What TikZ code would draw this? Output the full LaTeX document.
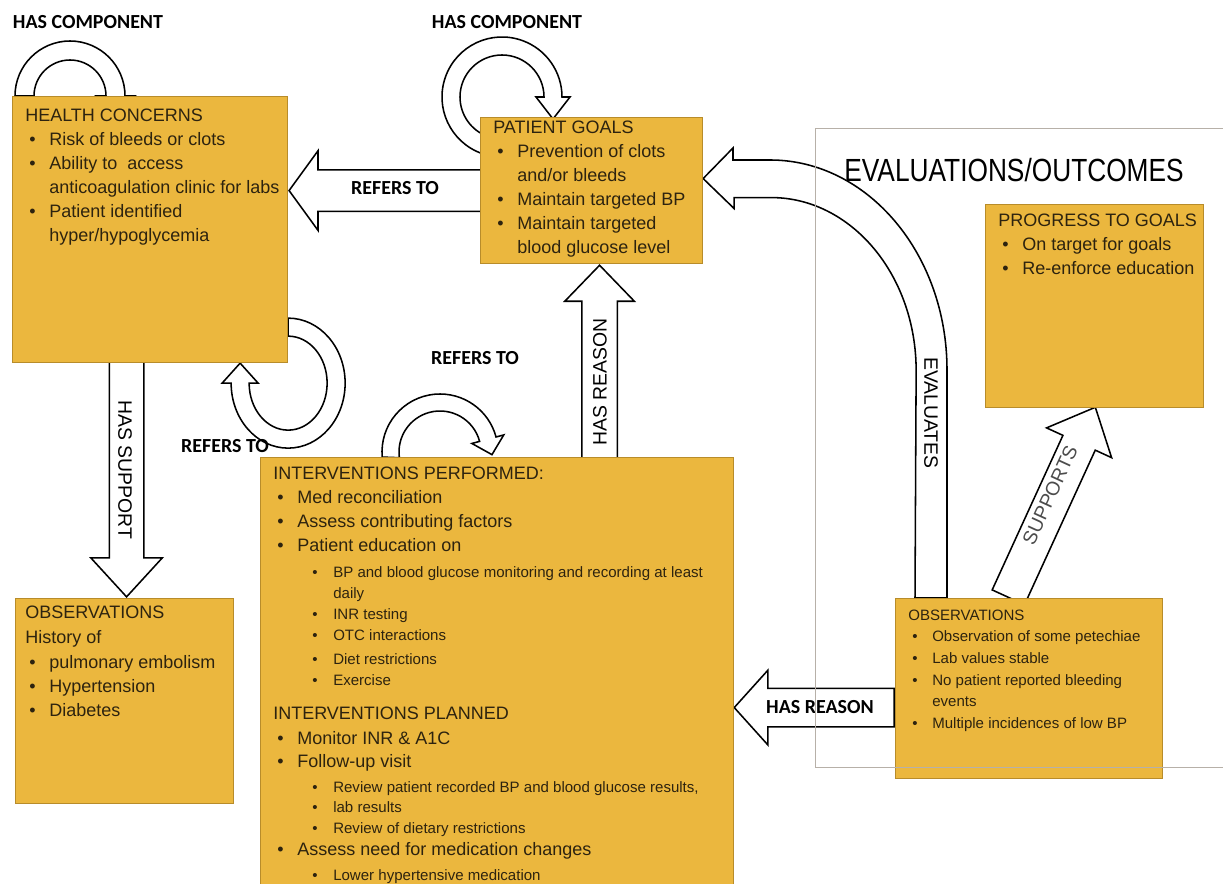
\documentclass[tikz,border=0pt]{standalone}
\usepackage{fontspec}
\setmainfont{Liberation Sans}
\newfontfamily\labfont{Carlito}
\newfontfamily\headfont[FakeStretch=0.82]{Liberation Sans}
\usetikzlibrary{arrows,shapes,positioning,calc}

\definecolor{boxfill}{RGB}{235,183,62}
\definecolor{boxline}{RGB}{184,140,42}
\definecolor{inkbrown}{RGB}{45,35,15}
\definecolor{framegray}{RGB}{183,176,168}

\pgfdeclarelayer{back}
\pgfsetlayers{back,main}

\newcommand{\sz}{\fontsize{10.7}{15}\selectfont}
\newcommand{\bul}[1]{\hspace*{1mm}\makebox[5mm][l]{\textbullet}#1}
\newcommand{\bcont}[1]{\hspace*{6mm}#1}
\newcommand{\sbul}[1]{\hspace*{9.75mm}{\sz\makebox[5.25mm][l]{\textbullet}#1}}
\newcommand{\scont}[1]{\hspace*{15mm}{\sz #1}}

\tikzset{
	box/.style={draw=boxline, fill=boxfill, line width=0.8pt, anchor=north west, inner sep=0pt},
	boxtext/.style={anchor=north west, align=left, inner sep=0pt, text=inkbrown, font=\fontsize{12.8}{17.07}\selectfont},
	smalltext/.style={boxtext, font=\fontsize{10.7}{15.36}\selectfont},
	blockarrow/.style={single arrow, draw=black, fill=white, line width=1.1pt, inner xsep=0pt},
	loopline/.style={draw=black, fill=white, line width=1.1pt},
	lab/.style={font=\labfont\bfseries\fontsize{14.2}{16}\selectfont},
	sidelab/.style={font=\fontsize{13.8}{16}\selectfont}
}

\begin{document}
\begin{tikzpicture}[x=0.25mm, y=-0.25mm]
	\useasboundingbox (0,0) rectangle (1223,884);
	% boxes
	\node[box, minimum width=68.75mm, minimum height=66.5mm] (health) at (12,96) {};
	\node[box, minimum width=55.5mm, minimum height=36.5mm] (goals) at (480,117) {};
	\node[box, minimum width=54.5mm, minimum height=50.75mm] (progress) at (985,204) {};
	\node[box, minimum width=54.5mm, minimum height=51.25mm] (obsleft) at (15,598) {};
	\node[box, minimum width=118.25mm, minimum height=110mm] (interv) at (260,457) {};
	\node[box, minimum width=66.75mm, minimum height=45mm] (obsright) at (895,598) {};
	% box texts
	\node[boxtext] (healthtxt) at ([xshift=3.25mm,yshift=-3.1mm]health.north west) {HEALTH CONCERNS\\
		\bul{Risk of bleeds or clots}\\
		\bul{Ability to\ \ access}\\
		\bcont{anticoagulation clinic for labs}\\
		\bul{Patient identified}\\
		\bcont{hyper/hypoglycemia}};
	\node[boxtext] (goalstxt) at ([xshift=3.25mm,yshift=-0.9mm]goals.north west) {PATIENT GOALS\\
		\bul{Prevention of clots}\\
		\bcont{and/or bleeds}\\
		\bul{Maintain targeted BP}\\
		\bul{Maintain targeted}\\
		\bcont{blood glucose level}};
	\node[boxtext] (progresstxt) at ([xshift=3.25mm,yshift=-2.4mm]progress.north west) {PROGRESS TO GOALS\\
		\bul{On target for goals}\\
		\bul{Re-enforce education}};
	\node[boxtext] (obslefttxt) at ([xshift=2.5mm,yshift=-1.9mm]obsleft.north west) {OBSERVATIONS\\[0.7pt]
		History of\\[0.7pt]
		\bul{pulmonary embolism}\\
		\bul{Hypertension}\\
		\bul{Diabetes}};
	\node[smalltext] (obsrighttxt) at ([xshift=3.25mm,yshift=-2.9mm]obsright.north west) {OBSERVATIONS\\
		\bul{Observation of some petechiae}\\
		\bul{Lab values stable}\\
		\bul{No patient reported bleeding}\\
		\bcont{events}\\
		\bul{Multiple incidences of low BP}};
	\node[boxtext] (intervtxt) at ([xshift=3.25mm,yshift=-2.4mm]interv.north west) {INTERVENTIONS PERFORMED:\\
		\bul{Med reconciliation}\\
		\bul{Assess contributing factors}\\
		\bul{Patient education on}\\[1.4pt]
		\sbul{BP and blood glucose monitoring and recording at least}\\[-2.1pt]
		\scont{daily}\\[-2.1pt]
		\sbul{INR testing}\\[-2.1pt]
		\sbul{OTC interactions}\\
		\sbul{Diet restrictions}\\[-2.1pt]
		\sbul{Exercise}\\[7.1pt]
		INTERVENTIONS PLANNED\\[0.7pt]
		\bul{Monitor INR \& A1C}\\[-0.7pt]
		\bul{Follow-up visit}\\[0.7pt]
		\sbul{Review patient recorded BP and blood glucose results,}\\[-2.8pt]
		\sbul{lab results}\\[-2.1pt]
		\sbul{Review of dietary restrictions}\\[-1.4pt]
		\bul{Assess need for medication changes}\\[0.7pt]
		\sbul{Lower hypertensive medication}};
	% connectors behind the boxes
	\begin{pgfonlayer}{back}
		\coordinate (hcA) at ([xshift=14.5mm]health.north west);
		\draw[loopline] ($(hcA)+(180:13.75mm)$) arc[start angle=180, end angle=0, radius=13.75mm]
			-- ($(hcA)+(0:16.25mm)$) -- ($(hcA)+(0:11.375mm)+(-90:6mm)$) -- ($(hcA)+(0:6.5mm)$)
			-- ($(hcA)+(0:9mm)$) arc[start angle=0, end angle=180, radius=9mm] -- cycle;
		\coordinate (pgC) at ([xshift=5.5mm,yshift=5mm]goals.north west);
		\draw[loopline] ($(pgC)+(250:15mm)$) arc[start angle=250, end angle=0, radius=15mm]
			-- ($(pgC)+(0:17mm)$) -- ($(pgC)+(0:12.75mm)+(-90:5.5mm)$) -- ($(pgC)+(0:8.5mm)$)
			-- ($(pgC)+(0:10.5mm)$) arc[start angle=0, end angle=250, radius=10.5mm] -- cycle;
		\coordinate (hcB) at ([yshift=-5mm]health.south east);
		\draw[loopline] ($(hcB)+(90:14.25mm and 16.25mm)$) arc[start angle=90, end angle=-180, x radius=14.25mm, y radius=16.25mm]
			-- ($(hcB)+(180:16.5mm)$) -- ($(hcB)+(180:12mm)+(90:5mm)$) -- ($(hcB)+(180:7.5mm)$)
			-- ($(hcB)+(180:9.75mm)$) arc[start angle=-180, end angle=90, x radius=9.75mm, y radius=11.75mm] -- cycle;
		\coordinate (ivC) at ([xshift=45mm,yshift=1.25mm]interv.north west);
		\draw[loopline] ($(ivC)+(185:14.5mm)$) arc[start angle=185, end angle=15, radius=14.5mm]
			-- ($(ivC)+(15:16.5mm)$) -- ($(ivC)+(15:12.375mm)+(-75:4mm)$) -- ($(ivC)+(15:8.25mm)$)
			-- ($(ivC)+(15:10.25mm)$) arc[start angle=15, end angle=188, radius=10.25mm] -- cycle;
		% evaluates
		\draw[loopline] ([xshift=13mm]obsright.north west) -- ++(0,57mm)
			arc[start angle=0, end angle=90, x radius=44.25mm, y radius=52.5mm]
			-- ++(-9.25mm,0) -- ++(0,3mm) -- ([yshift=3mm]goals.east) -- ++(7.75mm,-7.5mm)
			-- ++(0,2.75mm) -- ++(9.25mm,0)
			arc[start angle=90, end angle=0, x radius=36.25mm, y radius=43.25mm]
			-- ([xshift=5mm]obsright.north west) -- cycle;
		% straight block arrows
		\node[blockarrow, rotate=180, inner ysep=5mm, minimum height=48.25mm, minimum width=19.5mm, single arrow head extend=4.75mm, single arrow tip angle=108, anchor=tip] (hgarrow) at (health.east |- goals.west) {};
		\node[blockarrow, rotate=-90, inner ysep=4.125mm, minimum height=59mm, minimum width=17.5mm, single arrow head extend=4.625mm, single arrow tip angle=85, anchor=tip] (hsarrow) at ([xshift=0.5mm]obsleft.north) {};
		\node[blockarrow, rotate=90, inner ysep=4.25mm, minimum height=48.5mm, minimum width=17mm, single arrow head extend=4.25mm, single arrow tip angle=88, anchor=tip] (hrarrow) at ([xshift=2mm]goals.south) {};
		\node[blockarrow, rotate=180, inner ysep=4.625mm, minimum height=40mm, minimum width=18.25mm, single arrow head extend=4.5mm, single arrow tip angle=96, anchor=tail] (orarrow) at ([yshift=-4.75mm]obsright.west) {};
		\node[blockarrow, rotate=65.4, inner ysep=4.25mm, minimum height=52.25mm, minimum width=17.5mm, single arrow head extend=4.5mm, single arrow tip angle=85, anchor=tail] (sparrow) at ([xshift=28.25mm]obsright.north west) {};
	\end{pgfonlayer}
	% labels
	\node[lab] (hclab) at (88,22) {HAS COMPONENT};
	\node[lab] (pglab) at (507,22) {HAS COMPONENT};
	\node[lab] (hcref) at (225,446) {REFERS TO};
	\node[lab] (ivref) at (475,358) {REFERS TO};
	\node[lab] (hgref) at (395,188) {REFERS TO};
	\node[lab] (orlab) at (820,707) {HAS REASON};
	\node[sidelab, rotate=-90] (hslab) at (125,470) {HAS SUPPORT};
	\node[sidelab, rotate=90] (hrlab) at (600,382) {HAS REASON};
	\node[sidelab, rotate=-90] (evlab) at (931,413) {EVALUATES};
	\node[sidelab, rotate=65.4, text=black!70] (splab) at (1050,495) {SUPPORTS};
	% evaluations frame
	\node[draw=framegray, line width=1pt, anchor=north west, inner sep=0pt, minimum width=106.25mm, minimum height=159.75mm] (evalframe) at (815,128) {};
	\node[font=\headfont\fontsize{22.8}{26}\selectfont] (evaltitle) at (1014,170) {EVALUATIONS/OUTCOMES};
\end{tikzpicture}
\end{document}
